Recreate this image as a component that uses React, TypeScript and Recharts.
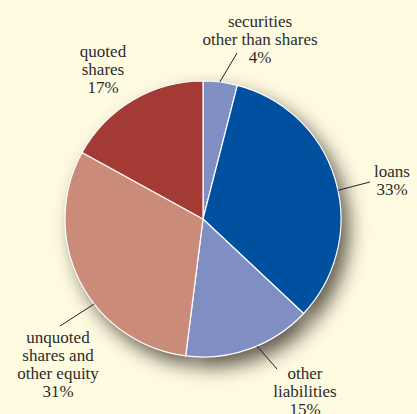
import React from 'react';
import { PieChart, Pie, Cell } from 'recharts';

const categories = [
  'securities other than shares',
  'loans',
  'other liabilities',
  'unquoted shares and other equity',
  'quoted shares',
];
const shares = [4, 33, 15, 31, 17];
const labelLines = [
  ['securities', 'other than shares', '4%'],
  ['loans', '33%'],
  ['other', 'liabilities', '15%'],
  ['unquoted', 'shares and', 'other equity', '31%'],
  ['quoted', 'shares', '17%'],
];
const colors = ['#7f8fc4', '#0050a0', '#7f8fc4', '#cb8b79', '#a33a33'];

const data = categories.map((name, i) => ({ name, value: shares[i] }));

// label placement relative to pie centre: leader line angle on the rim, line end, text centre/first baseline
const layout = [
  { angle: 83, end: [34, -166], text: [57, -192] },
  { angle: 12, end: [167, -37], text: [189, -42] },
  { angle: -67, end: [74, 150], text: [102, 160] },
  { angle: -142, end: [-143, 107], text: [-145, 124] },
  { angle: null, end: null, text: [-100, -162] },
];

const RADIAN = Math.PI / 180;

const renderLabel = (props: any) => {
  const { cx, cy, outerRadius, index } = props;
  const l = layout[index];
  const lines = labelLines[index];
  let line = null;
  if (l.angle !== null && l.end) {
    const x1 = cx + outerRadius * Math.cos(l.angle * RADIAN);
    const y1 = cy - outerRadius * Math.sin(l.angle * RADIAN);
    line = <line x1={x1} y1={y1} x2={cx + l.end[0]} y2={cy + l.end[1]} stroke="#222" strokeWidth={1} />;
  }
  return (
    <g key={`lbl-${index}`}>
      {line}
      <text
        x={cx + l.text[0]}
        y={cy + l.text[1]}
        textAnchor="middle"
        fill="#2b2b2b"
        style={{ fontFamily: '"Liberation Serif"', fontSize: 17 }}
      >
        {lines.map((t, j) => (
          <tspan key={j} x={cx + l.text[0]} dy={j === 0 ? 0 : 18}>
            {t}
          </tspan>
        ))}
      </text>
    </g>
  );
};

export default function App() {
  return (
    <div style={{ position: 'fixed', left: 0, top: 0, width: 417, height: 414, background: '#fefbe1' }}>
      <style>{`.pie-shadow { filter: blur(7px); transform: translate(4px, 5px); }`}</style>
      <PieChart width={417} height={414} margin={{ top: 0, right: 0, bottom: 0, left: 0 }}>
        <Pie
          className="pie-shadow"
          data={data}
          dataKey="value"
          cx={203}
          cy={219}
          outerRadius={138}
          startAngle={90}
          endAngle={-270}
          stroke="none"
          fill="#625a4e"
          isAnimationActive={false}
          label={false}
          labelLine={false}
        />
        <Pie
          data={data}
          dataKey="value"
          cx={203}
          cy={219}
          outerRadius={138}
          startAngle={90}
          endAngle={-270}
          stroke="#ffffff"
          strokeWidth={1.2}
          isAnimationActive={false}
          label={renderLabel}
          labelLine={false}
        >
          {data.map((d, i) => (
            <Cell key={d.name} fill={colors[i]} />
          ))}
        </Pie>
      </PieChart>
    </div>
  );
}
